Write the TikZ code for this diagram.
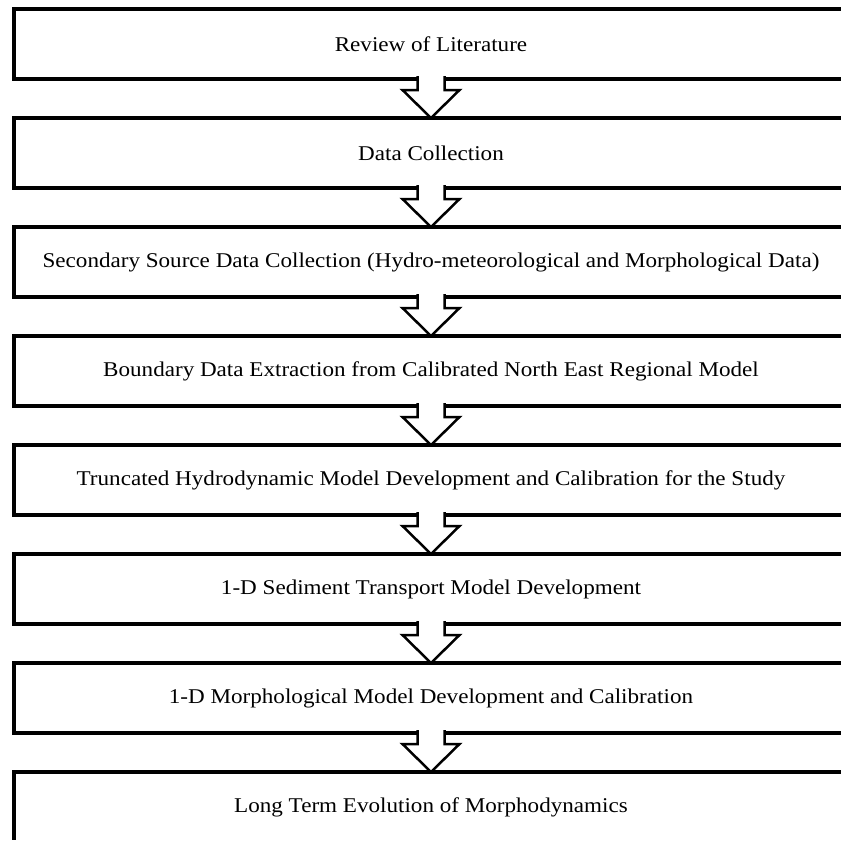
\documentclass[tikz,border=0pt]{standalone}
\usepackage{fontspec}
\setmainfont[FakeStretch=1.1]{Liberation Serif}
\usepackage{tikz}
\usetikzlibrary{positioning,calc}

\tikzset{
  stage/.style={draw, line width=3.5pt, outer sep=0pt, inner sep=0pt,
    minimum width=834pt, minimum height=70pt, font=\fontsize{21}{25}\selectfont},
  flow/.style={draw, fill=white, line width=2.5pt, line join=miter}
}

\begin{document}
\begin{tikzpicture}[x=1pt, y=-1pt, node distance=39pt]
  \useasboundingbox (0,0) rectangle (841,841);   %Rahmen
  \clip (0,0) rectangle (841,839.5);
  \node [stage, anchor=north] (review) at (431,9) {Review of Literature};
  \node [stage, below=of review] (collect) {Data Collection};
  \node [stage, below=of collect] (secondary) {Secondary Source Data Collection (Hydro-meteorological and Morphological Data)};
  \node [stage, below=of secondary] (boundary) {Boundary Data Extraction from Calibrated North East Regional Model};
  \node [stage, below=of boundary] (hydro) {Truncated Hydrodynamic Model Development and Calibration for the Study};
  \node [stage, below=of hydro] (sediment) {1-D Sediment Transport Model Development};
  \node [stage, below=of sediment] (morph) {1-D Morphological Model Development and Calibration};
  \node [stage, below=of morph] (evolution) {Long Term Evolution of Morphodynamics};
  % Blockpfeile
  \foreach \a/\b in {review/collect, collect/secondary, secondary/boundary, boundary/hydro,
                     hydro/sediment, sediment/morph, morph/evolution}
    \filldraw [flow] let \p1=(\a.south), \p2=(\b.north) in
      (\x1-13.5pt,\y1+3pt) -- (\x1-13.5pt,\y1-11pt) -- (\x1-28.5pt,\y1-11pt) -- (\x2,\y2)
      -- (\x1+28.5pt,\y1-11pt) -- (\x1+13.5pt,\y1-11pt) -- (\x1+13.5pt,\y1+3pt);
\end{tikzpicture}
\end{document}
